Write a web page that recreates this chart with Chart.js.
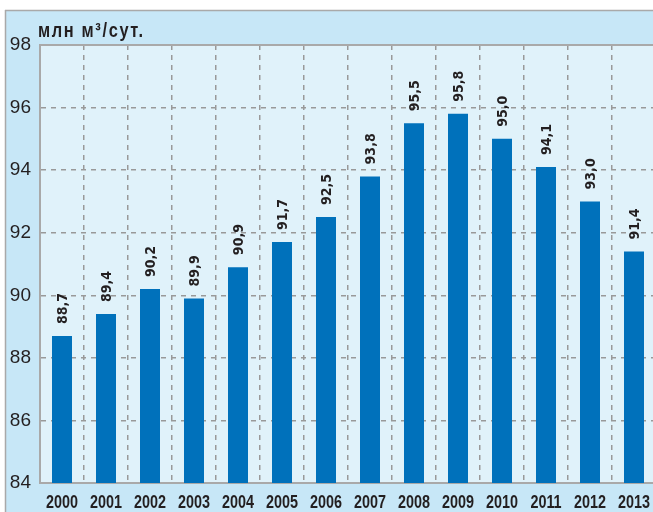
<!DOCTYPE html>
<html>
<head>
<meta charset="utf-8">
<script src="https://cdn.jsdelivr.net/npm/chart.js@4/dist/chart.umd.min.js"></script>
<style>
  html, body { margin: 0; padding: 0; background: #ffffff; overflow: hidden; }
  #wrap { width: 653px; height: 512px; overflow: hidden; position: relative; }
  canvas { display: block; }
</style>
</head>
<body>
<div id="wrap"><canvas id="c" width="656" height="512"></canvas></div>
<script>
const years = ['2000','2001','2002','2003','2004','2005','2006','2007','2008','2009','2010','2011','2012','2013'];
const values = [88.7, 89.4, 90.2, 89.9, 90.9, 91.7, 92.5, 93.8, 95.5, 95.8, 95.0, 94.1, 93.0, 91.4];
const yTicks = [84, 86, 88, 90, 92, 94, 96, 98];
const unitTitle = 'млн м³/сут.';

const OUTER_BG = '#c7e7f7';
const PLOT_BG = '#e0f2fa';
const BAR_COLOR = '#0071bb';
const GRID_COLOR = '#999999';
const BORDER_COLOR = '#a9a9a9';
const TEXT_COLOR = '#231f20';

const bgPlugin = {
  id: 'bg',
  beforeDraw(chart) {
    const ctx = chart.ctx;
    const a = chart.chartArea;
    ctx.save();
    ctx.fillStyle = '#ffffff';
    ctx.fillRect(0, 0, chart.width, chart.height);
    ctx.fillStyle = OUTER_BG;
    ctx.fillRect(5, 10, chart.width - 5, chart.height - 10);
    ctx.strokeStyle = BORDER_COLOR;
    ctx.lineWidth = 1.5;
    ctx.beginPath();
    ctx.moveTo(5, 10.5);
    ctx.lineTo(chart.width, 10.5);
    ctx.moveTo(5.5, 10);
    ctx.lineTo(5.5, chart.height);
    ctx.stroke();
    ctx.fillStyle = PLOT_BG;
    ctx.fillRect(a.left, a.top, a.right - a.left, a.bottom - a.top);
    // title
    ctx.fillStyle = TEXT_COLOR;
    ctx.font = 'bold 20px "Liberation Sans", Arial, sans-serif';
    ctx.textAlign = 'left';
    ctx.textBaseline = 'alphabetic';
    if ('letterSpacing' in ctx) ctx.letterSpacing = '2px';
    ctx.translate(38, 37);
    ctx.scale(0.82, 1);
    ctx.fillText(unitTitle, 0, 0);
    ctx.restore();
  },
  afterDraw(chart) {
    const ctx = chart.ctx;
    const a = chart.chartArea;
    ctx.save();
    ctx.strokeStyle = BORDER_COLOR;
    ctx.lineWidth = 2;
    ctx.beginPath();
    ctx.moveTo(a.left - 1, a.top);
    ctx.lineTo(chart.width, a.top);
    ctx.stroke();
    // condensed category labels under the x axis
    const xs = chart.scales.x;
    ctx.fillStyle = TEXT_COLOR;
    ctx.font = 'bold 18px "Liberation Sans", Arial, sans-serif';
    ctx.textAlign = 'center';
    ctx.textBaseline = 'alphabetic';
    years.forEach((lbl, i) => {
      const x = xs.getPixelForTick(i);
      ctx.save();
      ctx.translate(x, a.bottom + 25);
      ctx.scale(0.8, 1);
      ctx.fillText(lbl, 0, 0);
      ctx.restore();
    });
    ctx.restore();
  }
};

const labelPlugin = {
  id: 'vlabels',
  afterDatasetsDraw(chart) {
    const ctx = chart.ctx;
    const meta = chart.getDatasetMeta(0);
    ctx.save();
    ctx.fillStyle = TEXT_COLOR;
    ctx.font = 'bold 14px "DejaVu Sans Condensed", "DejaVu Sans", sans-serif';
    ctx.textAlign = 'left';
    ctx.textBaseline = 'middle';
    meta.data.forEach((bar, i) => {
      ctx.save();
      ctx.translate(bar.x + 1, bar.y - 12);
      ctx.rotate(-Math.PI / 2);
      ctx.fillText(values[i].toFixed(1).replace('.', ','), 0, 0);
      ctx.restore();
    });
    ctx.restore();
  }
};

new Chart(document.getElementById('c'), {
  type: 'bar',
  data: {
    labels: years,
    datasets: [{
      data: values,
      backgroundColor: BAR_COLOR,
      borderWidth: 0,
      barPercentage: 20 / 44,
      categoryPercentage: 1.0
    }]
  },
  options: {
    responsive: false,
    animation: false,
    devicePixelRatio: 1,
    layout: { padding: { top: 45, left: 0, right: 0, bottom: 0 } },
    plugins: { legend: { display: false }, tooltip: { enabled: false }, title: { display: false } },
    scales: {
      x: {
        offset: true,
        grid: { offset: true, color: GRID_COLOR, lineWidth: 1.5, drawTicks: false },
        border: { display: true, color: BORDER_COLOR, width: 2, dash: [5, 5] },
        ticks: { display: false, autoSkip: false },
        afterFit(scale) { scale.height = 29; scale.paddingLeft = 0; scale.paddingRight = 0; }
      },
      y: {
        min: 84,
        max: 98,
        afterBuildTicks(scale) { scale.ticks = yTicks.map(v => ({ value: v })); },
        grid: { color: GRID_COLOR, lineWidth: 1.5, drawTicks: false },
        border: { display: true, color: BORDER_COLOR, width: 2, dash: [5, 5] },
        ticks: {
          color: TEXT_COLOR,
          font: { family: '"Liberation Sans", sans-serif', size: 19 },
          padding: 9
        },
        afterFit(scale) { scale.width = 40; }
      }
    }
  },
  plugins: [bgPlugin, labelPlugin]
});
</script>
</body>
</html>
